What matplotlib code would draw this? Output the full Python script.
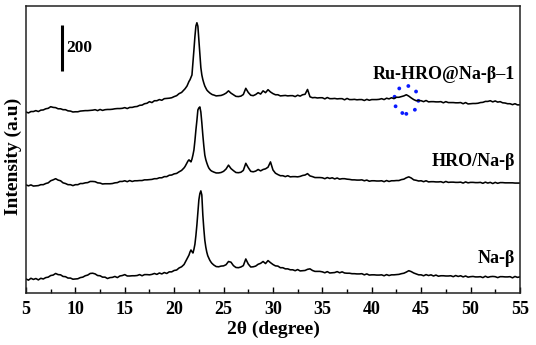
import numpy as np
import matplotlib
matplotlib.use('Agg')
import matplotlib.pyplot as plt
from matplotlib.patches import Ellipse

plt.rcParams['font.family'] = ['Liberation Serif', 'DejaVu Serif']
plt.rcParams['font.weight'] = 'bold'

# 2-theta sampling: coarse away from the main reflection, fine around it
two_theta = np.round(np.concatenate([
    np.arange(5, 21.01, 0.25),
    np.arange(21.1, 23.95, 0.1),
    np.arange(24, 55.01, 0.25),
]), 2)

# intensities (counts)
na_beta = [
    61, 56, 64, 59, 63, 57, 64, 61, 67, 69, 76, 78, 85, 80, 79, 72,
    71, 65, 65, 60, 61, 62, 67, 69, 75, 78, 85, 86, 83, 76, 75, 69,
    69, 63, 67, 68, 72, 67, 74, 76, 80, 74, 74, 75, 75, 76, 80, 75,
    80, 80, 79, 81, 85, 81, 87, 83, 89, 85, 92, 92, 98, 100, 109, 114,
    124,
    132, 140, 148, 156, 165, 178, 187, 180, 174, 190, 212, 250, 296, 350, 405,
    432, 444, 426, 340, 280, 230, 200, 178, 162, 152, 143, 136, 130, 126,
    122, 115, 114, 117, 118, 123, 137, 134, 119, 111, 110, 113, 119, 148, 126, 113,
    114, 117, 125, 129, 137, 128, 141, 132, 124, 118, 117, 110, 110, 105, 105, 101,
    101, 97, 102, 96, 97, 98, 103, 105, 98, 94, 94, 94, 92, 88, 93, 87,
    88, 89, 93, 88, 92, 87, 86, 86, 84, 84, 83, 83, 84, 79, 83, 78,
    79, 79, 78, 78, 79, 75, 80, 76, 79, 79, 80, 81, 84, 86, 91, 97,
    93, 87, 83, 79, 79, 75, 80, 76, 79, 74, 78, 73, 75, 75, 74, 74,
    75, 71, 76, 72, 75, 70, 74, 69, 71, 72, 70, 70, 71, 67, 73, 68,
    71, 72, 71, 67, 71, 71, 70, 70, 71, 66, 72, 68, 70,
]
hro_na_beta = [
    70, 66, 70, 65, 66, 67, 71, 71, 76, 79, 88, 92, 97, 91, 88, 79,
    76, 71, 71, 67, 71, 71, 76, 76, 79, 80, 85, 85, 84, 79, 78, 74,
    75, 75, 75, 76, 79, 80, 85, 85, 88, 84, 89, 85, 88, 88, 89, 89,
    92, 92, 93, 94, 97, 97, 101, 101, 106, 106, 112, 113, 118, 120, 127, 133,
    144,
    150, 158, 166, 174, 179, 174, 170, 182, 200, 222, 262, 309, 350, 396, 405,
    409, 387, 340, 287, 240, 200, 180, 166, 154, 144, 138, 133, 130, 128,
    126, 122, 122, 124, 129, 139, 156, 141, 132, 124, 123, 125, 133, 164, 145, 129,
    127, 130, 137, 131, 137, 140, 147, 170, 135, 121, 115, 110, 110, 106, 110, 105,
    106, 106, 105, 107, 111, 113, 119, 109, 106, 102, 102, 102, 101, 97, 102, 98,
    101, 96, 100, 95, 97, 97, 95, 94, 92, 92, 91, 91, 92, 88, 91, 86,
    88, 88, 87, 87, 88, 84, 89, 85, 88, 88, 89, 89, 93, 95, 101, 105,
    100, 92, 90, 87, 88, 84, 88, 83, 84, 84, 83, 83, 84, 80, 85, 81,
    82, 82, 81, 81, 82, 78, 83, 79, 81, 81, 80, 80, 81, 77, 82, 78,
    81, 76, 81, 77, 80, 80, 79, 79, 79, 79, 78, 78, 78,
]
ru_hro_na_beta = [
    67, 63, 69, 69, 73, 69, 75, 76, 81, 83, 90, 87, 86, 81, 81, 77,
    77, 72, 71, 67, 68, 68, 71, 72, 73, 73, 74, 75, 77, 73, 78, 74,
    77, 78, 78, 79, 81, 82, 82, 83, 86, 82, 87, 87, 90, 91, 96, 97,
    103, 105, 112, 108, 116, 116, 121, 118, 125, 126, 127, 129, 134, 138, 147, 152,
    163,
    168, 174, 180, 190, 200, 207, 218, 228, 280, 337, 395, 441, 455, 440, 380,
    315, 260, 228, 208, 193, 180, 172, 163, 158, 154, 150, 147, 144, 142,
    141, 137, 138, 139, 143, 149, 159, 149, 142, 135, 134, 136, 143, 170, 152, 140,
    138, 143, 151, 145, 159, 151, 164, 154, 147, 142, 142, 137, 138, 139, 137, 138,
    138, 134, 140, 136, 142, 144, 165, 133, 129, 130, 128, 129, 129, 124, 130, 125,
    125, 126, 124, 125, 125, 120, 126, 121, 121, 122, 120, 121, 121, 117, 122, 118,
    121, 121, 121, 122, 125, 121, 127, 124, 129, 125, 131, 131, 134, 137, 142, 136,
    128, 121, 116, 117, 116, 112, 117, 111, 112, 112, 111, 111, 112, 107, 112, 108,
    108, 108, 107, 107, 108, 103, 108, 102, 103, 104, 104, 105, 108, 109, 113, 113,
    116, 111, 115, 110, 112, 107, 106, 103, 103, 99, 103, 98, 98,
]

labels = ['Na-β', 'HRO/Na-β', 'Ru-HRO@Na-β–1']
offsets = [0, 400, 720]
label_y = [152, 570, 948]


def main():
    fig = plt.figure(figsize=(5.36, 3.45), dpi=100)
    ax = fig.add_axes([0.0485, 0.1507, 0.9215, 0.832])

    series = [na_beta, hro_na_beta, ru_hro_na_beta]
    for counts, off, lab, ly in zip(series, offsets, labels, label_y):
        ax.plot(two_theta, np.array(counts) + off, color='black', lw=1.15)
        ax.text(54.5, ly, lab, ha='right', va='center', fontsize=13,
                fontweight='bold')

    # scale bar
    ax.plot([8.64, 8.64], [966, 1166], color='black', lw=2.2,
            solid_capstyle='butt')
    ax.text(9.1, 1066, '200', ha='left', va='center', fontsize=12.5,
            fontweight='bold')

    # dotted circle marking the Ru reflection
    ax.add_patch(Ellipse((43.5, 840), 2.45, 122, fill=False, edgecolor='#0a1aff',
                         lw=2.8, ls=(0, (0.01, 2.5)), capstyle='round'))

    ax.set_xlim(5, 55)
    ax.set_ylim(0, 1248)
    ax.set_xticks(np.arange(5, 56, 5))
    ax.set_xticks(np.arange(7.5, 55, 5), minor=True)
    ax.set_yticks([])
    ax.tick_params(axis='x', which='major', direction='in', length=4,
                   width=1, labelsize=13, pad=6)
    ax.tick_params(axis='x', which='minor', direction='in', length=3, width=1)
    for lbl in ax.get_xticklabels():
        lbl.set_fontweight('bold')
    for s in ax.spines.values():
        s.set_linewidth(1.1)
        s.set_color('#222222')

    ax.set_xlabel('2θ (degree)', fontsize=14, fontweight='bold', labelpad=2)
    ax.set_ylabel('Intensity (a.u)', fontsize=14, fontweight='bold')
    ax.yaxis.set_label_coords(-0.008, 0.475)

    fig.savefig('out.png', dpi=100)


if __name__ == "__main__":
    main()
